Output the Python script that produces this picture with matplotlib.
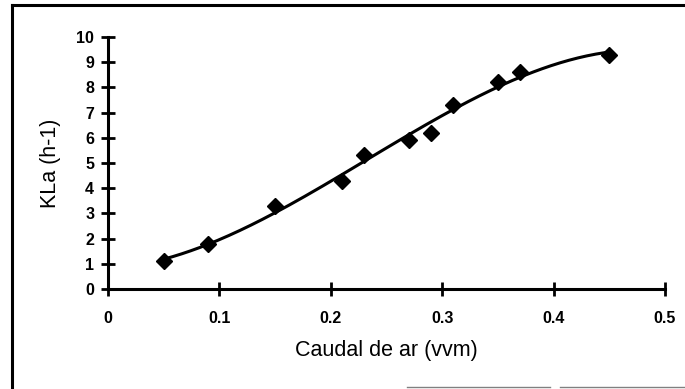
import numpy as np
import matplotlib.pyplot as plt
from matplotlib.lines import Line2D

# KLa vs air flow
caudal = [0.05, 0.09, 0.15, 0.21, 0.23, 0.27, 0.29, 0.31, 0.35, 0.37, 0.45]
kla = [1.1, 1.8, 3.3, 4.3, 5.3, 5.9, 6.2, 7.3, 8.2, 8.6, 9.3]
xticks = [0, 0.1, 0.2, 0.3, 0.4, 0.5]
xticklabels = ['0', '0.1', '0.2', '0.3', '0.4', '0.5']
yticks = list(range(0, 11))

plt.rcParams['font.family'] = ['Liberation Sans', 'DejaVu Sans']

fig = plt.figure(figsize=(6.85, 3.89), dpi=100)
ax = fig.add_axes([0.1577, 0.2571, 0.8131, 0.6478])

# polynomial trendline (3rd order, like the spreadsheet)
coef = np.polyfit(caudal, kla, 3)
xs = np.linspace(min(caudal), max(caudal), 200)
ax.plot(xs, np.polyval(coef, xs), color='black', lw=2.2, zorder=2)
ax.plot(caudal, kla, linestyle='none', marker='D', markersize=8.5,
        color='black', zorder=3, clip_on=False)

ax.set_xlim(0, 0.5)
ax.set_ylim(0, 10)
ax.set_xticks(xticks)
ax.set_xticklabels(xticklabels)
ax.set_yticks(yticks)
for s in ['top', 'right']:
    ax.spines[s].set_visible(False)
for s in ['left', 'bottom']:
    ax.spines[s].set_linewidth(2.2)
ax.tick_params(direction='inout', length=10, width=2, labelsize=11.5)
ax.tick_params(axis='x', pad=11)
ax.tick_params(axis='y', pad=5)
for lab in ax.get_xticklabels() + ax.get_yticklabels():
    lab.set_fontweight('bold')
ax.set_xlabel('Caudal de ar (vvm)', fontsize=15.5, labelpad=10)
ax.set_ylabel('KLa (h-1)', fontsize=15.5, labelpad=11)

# outer chart frame (left and top edge visible)
W, H = 685, 389
fig.add_artist(Line2D([12 / W, 12 / W], [0, 1 - 5 / H], color='black', lw=2.2,
                      transform=fig.transFigure))
fig.add_artist(Line2D([12 / W, 1], [1 - 5 / H, 1 - 5 / H], color='black', lw=2.2,
                      transform=fig.transFigure))
fig.add_artist(Line2D([407 / W, 550 / W], [2 / H, 2 / H], color='gray', lw=1,
                      transform=fig.transFigure))
fig.add_artist(Line2D([560 / W, 1], [2 / H, 2 / H], color='gray', lw=1,
                      transform=fig.transFigure))

fig.savefig('out.png', dpi=100)
